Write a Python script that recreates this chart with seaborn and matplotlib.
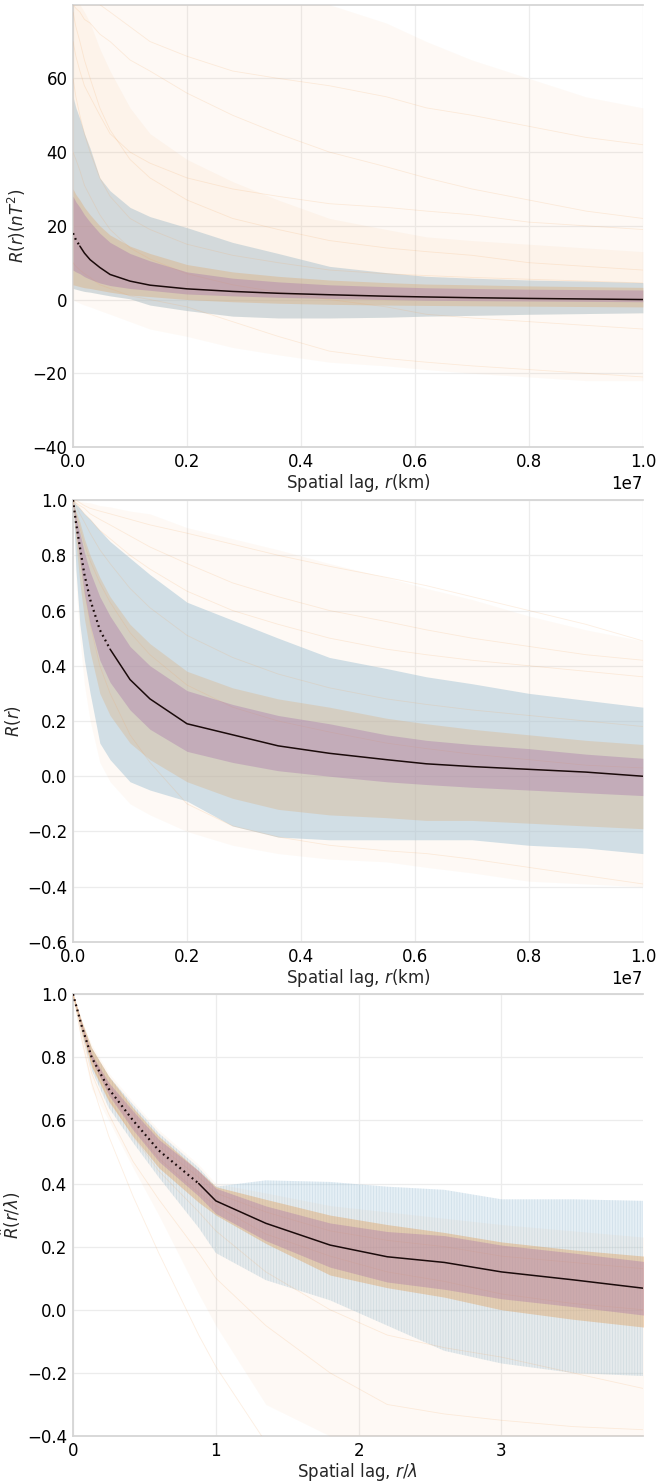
import numpy as np
import pandas as pd
import matplotlib
matplotlib.use("Agg")
import matplotlib.pyplot as plt
import seaborn as sns

# ---- data ----
# lag grid for the two top panels, in units of 1e7 km
lag = [0.0, 0.005, 0.012, 0.02, 0.03, 0.047, 0.065, 0.1, 0.135, 0.2, 0.28, 0.36, 0.45, 0.55, 0.62, 0.7, 0.8, 0.9, 1.0]

# panel 1: R(r) in nT^2
p1_mean = [18, 16.2, 14.5, 12.6, 10.8, 8.7, 6.8, 5.0, 3.9, 2.9, 2.2, 1.7, 1.3, 0.9, 0.7, 0.5, 0.3, 0.15, 0.0]
p1_std_hi = [28, 26.5, 25, 23, 21, 18, 15.5, 12.5, 10.5, 7.5, 5.8, 4.8, 4.0, 3.5, 3.2, 3.0, 2.8, 2.7, 2.6]
p1_std_lo = [8, 7.5, 7, 6.2, 5.5, 4.5, 3.8, 3.0, 2.5, 1.5, 1.0, 0.6, 0.3, 0.0, -0.2, -0.3, -0.4, -0.5, -0.6]
p1_rng_hi = [55, 52, 49, 45, 41, 33, 29.5, 25, 22.5, 19.5, 15.5, 12.5, 9.0, 7.3, 6.3, 5.8, 5.3, 5.0, 4.6]
p1_rng_lo = [3, 2.8, 2.5, 2.2, 2.0, 1.5, 1.0, 0.2, -1.5, -3.0, -4.5, -5.0, -5.0, -4.8, -4.5, -4.3, -4.0, -3.8, -3.6]
p1_core_hi = [30, 28.5, 27, 25, 23, 20, 17.5, 14.5, 12.5, 9.5, 7.5, 6.3, 5.3, 4.6, 4.2, 4.0, 3.7, 3.5, 3.3]
p1_core_lo = [4, 3.8, 3.5, 3.2, 3, 2.5, 2.0, 1.2, 0.8, 0.0, -0.6, -1.0, -1.3, -1.5, -1.6, -1.7, -1.8, -1.9, -2.0]
p1_mid_hi = [80, 80, 80, 78, 75, 68, 62, 52, 45, 38, 32, 27, 22, 19, 17, 16, 15, 14, 13]
p1_all_hi = [80, 80, 80, 80, 80, 80, 80, 80, 80, 80, 80, 80, 80, 75, 70, 65, 60, 55, 52]
p1_all_lo = [0, -0.5, -1, -1.5, -2, -3, -4, -6, -8, -10, -13, -15, -17, -18, -19, -20, -21, -22, -22]
p1_runs = [
    [80, 79, 78, 76, 75, 72, 70, 65, 62, 56, 50, 45, 40, 36, 33, 30, 27, 24, 22],
    [78, 74, 70, 65, 60, 52, 46, 38, 33, 27, 22, 19, 16, 14, 13, 12, 10, 9, 8],
    [10, 9, 8, 7, 6, 4, 3, 1, 0, -2, -6, -10, -14, -16, -17, -18, -19, -20, -21],
    [60, 55, 50, 45, 40, 33, 28, 22, 19, 15, 12, 10, 8, 7, 6.5, 6, 5.5, 5, 4.5],
    [40, 38, 35, 31, 28, 23, 19, 14, 11, 7, 4, 2, 0, -2, -4, -5, -6, -7, -8],
    [80, 80, 80, 80, 80, 80, 78, 74, 70, 66, 62, 60, 58, 55, 52, 50, 47, 44, 42],
    [70, 66, 62, 58, 55, 50, 45, 40, 37, 33, 30, 28, 26, 25, 24, 23, 21, 20, 19],
]

# panel 2: normalised R(r)
p2_mean = [1.0, 0.92, 0.83, 0.73, 0.64, 0.53, 0.46, 0.35, 0.28, 0.19, 0.15, 0.11, 0.083, 0.06, 0.045, 0.035, 0.025, 0.015, 0.0]
p2_std_hi = [1.0, 0.94, 0.88, 0.81, 0.74, 0.65, 0.58, 0.47, 0.40, 0.31, 0.26, 0.22, 0.19, 0.15, 0.13, 0.115, 0.10, 0.08, 0.065]
p2_std_lo = [1.0, 0.89, 0.78, 0.66, 0.55, 0.42, 0.34, 0.24, 0.17, 0.09, 0.05, 0.02, 0.0, -0.02, -0.03, -0.04, -0.05, -0.06, -0.07]
p2_rng_hi = [1.0, 0.985, 0.97, 0.95, 0.93, 0.89, 0.85, 0.79, 0.73, 0.63, 0.565, 0.50, 0.43, 0.39, 0.36, 0.335, 0.30, 0.275, 0.25]
p2_rng_lo = [1.0, 0.75, 0.55, 0.42, 0.3, 0.12, 0.06, -0.02, -0.05, -0.09, -0.18, -0.22, -0.23, -0.23, -0.23, -0.23, -0.25, -0.26, -0.28]
p2_core_hi = [1.0, 0.96, 0.92, 0.86, 0.8, 0.72, 0.65, 0.55, 0.48, 0.38, 0.32, 0.28, 0.25, 0.21, 0.19, 0.17, 0.15, 0.13, 0.115]
p2_core_lo = [1.0, 0.85, 0.7, 0.57, 0.45, 0.3, 0.22, 0.12, 0.06, -0.02, -0.08, -0.12, -0.14, -0.15, -0.16, -0.16, -0.17, -0.18, -0.19]
p2_all_hi = [1.0, 1.0, 0.995, 0.992, 0.99, 0.98, 0.975, 0.96, 0.95, 0.9, 0.86, 0.82, 0.77, 0.72, 0.68, 0.64, 0.58, 0.53, 0.49]
p2_all_lo = [1.0, 0.7, 0.5, 0.33, 0.2, 0.05, -0.02, -0.1, -0.14, -0.2, -0.25, -0.28, -0.3, -0.31, -0.33, -0.35, -0.38, -0.39, -0.4]
p2_runs = [
    [1.0, 1.0, 0.99, 0.98, 0.97, 0.96, 0.95, 0.93, 0.91, 0.88, 0.84, 0.8, 0.76, 0.72, 0.69, 0.65, 0.6, 0.55, 0.49],
    [1.0, 0.99, 0.97, 0.95, 0.93, 0.89, 0.86, 0.8, 0.75, 0.67, 0.6, 0.55, 0.5, 0.46, 0.44, 0.42, 0.4, 0.38, 0.36],
    [1.0, 0.9, 0.8, 0.67, 0.55, 0.4, 0.3, 0.15, 0.05, -0.1, -0.18, -0.22, -0.25, -0.27, -0.28, -0.3, -0.33, -0.36, -0.39],
    [1.0, 0.95, 0.9, 0.84, 0.78, 0.7, 0.63, 0.52, 0.44, 0.33, 0.25, 0.2, 0.16, 0.12, 0.1, 0.08, 0.06, 0.04, 0.03],
    [1.0, 0.98, 0.95, 0.92, 0.88, 0.82, 0.77, 0.68, 0.61, 0.51, 0.43, 0.37, 0.32, 0.28, 0.26, 0.24, 0.22, 0.2, 0.18],
    [1.0, 0.99, 0.98, 0.97, 0.95, 0.93, 0.91, 0.87, 0.83, 0.77, 0.7, 0.65, 0.6, 0.56, 0.53, 0.5, 0.47, 0.44, 0.42],
]

# panel 3: R vs r/lambda
slag = [0, 0.06, 0.13, 0.25, 0.42, 0.6, 0.88, 1.0, 1.35, 1.8, 2.2, 2.6, 3.0, 3.5, 4.0]
p3_mean = [1.0, 0.9, 0.8, 0.7, 0.6, 0.505, 0.4, 0.345, 0.274, 0.205, 0.168, 0.15, 0.12, 0.095, 0.068]
p3_std_hi = [1.0, 0.905, 0.81, 0.72, 0.63, 0.54, 0.44, 0.385, 0.329, 0.275, 0.248, 0.235, 0.205, 0.18, 0.153]
p3_std_lo = [1.0, 0.895, 0.79, 0.68, 0.57, 0.47, 0.36, 0.305, 0.219, 0.135, 0.088, 0.065, 0.035, 0.01, -0.017]
p3_rng_hi = [1.0, 0.915, 0.83, 0.74, 0.65, 0.56, 0.45, 0.39, 0.41, 0.405, 0.39, 0.38, 0.35, 0.35, 0.345]
p3_rng_lo = [1.0, 0.88, 0.76, 0.64, 0.53, 0.42, 0.26, 0.18, 0.094, 0.03, -0.05, -0.13, -0.17, -0.2, -0.21]
p3_core_hi = [1.0, 0.915, 0.83, 0.74, 0.64, 0.55, 0.44, 0.39, 0.35, 0.30, 0.27, 0.245, 0.215, 0.19, 0.17]
p3_core_lo = [1.0, 0.885, 0.77, 0.66, 0.55, 0.45, 0.34, 0.30, 0.21, 0.11, 0.07, 0.04, 0.0, -0.03, -0.055]
p3_all_hi = [1.0, 0.92, 0.84, 0.75, 0.66, 0.57, 0.46, 0.4, 0.37, 0.33, 0.31, 0.29, 0.27, 0.25, 0.23]
p3_all_lo = [1.0, 0.84, 0.7, 0.6, 0.45, 0.3, 0.05, -0.05, -0.3, -0.4, -0.4, -0.4, -0.4, -0.4, -0.4]
p3_runs = [
    [1.0, 0.86, 0.72, 0.55, 0.36, 0.18, -0.08, -0.18, -0.42, -0.5, -0.5, -0.5, -0.5, -0.5, -0.5],
    [1.0, 0.88, 0.75, 0.62, 0.47, 0.35, 0.18, 0.1, -0.05, -0.2, -0.3, -0.33, -0.35, -0.37, -0.38],
    [1.0, 0.89, 0.78, 0.67, 0.55, 0.44, 0.31, 0.25, 0.12, 0.0, -0.08, -0.12, -0.15, -0.2, -0.25],
    [1.0, 0.91, 0.81, 0.71, 0.62, 0.52, 0.42, 0.37, 0.31, 0.25, 0.22, 0.2, 0.17, 0.15, 0.13],
    [1.0, 0.9, 0.79, 0.69, 0.58, 0.48, 0.37, 0.33, 0.24, 0.17, 0.12, 0.09, 0.05, 0.02, 0.0],
]

# ---- style ----
BLUE = "#a9cbe0"
HATCH_BLUE = "#a3bfd2"
ORANGE = "#f2a45c"
CORE = "#dea66a"
PURPLE = "#9c60a6"
MEAN = "#1a0a0a"

sns.set_theme(style="whitegrid")
plt.rcParams["font.family"] = ["DejaVu Sans"]
plt.rcParams["axes.edgecolor"] = "#d4d4d4"
plt.rcParams["grid.color"] = "#ececec"
plt.rcParams["grid.linewidth"] = 0.9
plt.rcParams["hatch.linewidth"] = 0.6

fig = plt.figure(figsize=(6.58, 14.82), dpi=100)
L, W, H = 0.111, 0.866, 0.2982
axs = [fig.add_axes([L, 0.6984, W, H]),
       fig.add_axes([L, 0.3644, W, H]),
       fig.add_axes([L, 0.0310, W, H])]

km = [v * 1e7 for v in lag]

panels = [
    dict(x=km, mean=p1_mean, shi=p1_std_hi, slo=p1_std_lo, rhi=p1_rng_hi, rlo=p1_rng_lo,
         chi=p1_core_hi, clo=p1_core_lo, ahi=p1_all_hi, alo=p1_all_lo, mhi=p1_mid_hi,
         runs=p1_runs, dot_end=2, hatch=None, core_alpha=0.35),
    dict(x=km, mean=p2_mean, shi=p2_std_hi, slo=p2_std_lo, rhi=p2_rng_hi, rlo=p2_rng_lo,
         chi=p2_core_hi, clo=p2_core_lo, ahi=p2_all_hi, alo=p2_all_lo, mhi=None,
         runs=p2_runs, dot_end=6, hatch=None, core_alpha=0.28),
    dict(x=slag, mean=p3_mean, shi=p3_std_hi, slo=p3_std_lo, rhi=p3_rng_hi, rlo=p3_rng_lo,
         chi=p3_core_hi, clo=p3_core_lo, ahi=p3_all_hi, alo=p3_all_lo, mhi=None,
         runs=p3_runs, dot_end=6, hatch="||||||", core_alpha=0.45),
]

for ax, p in zip(axs, panels):
    x = p["x"]
    # spread of all runs (blue)
    if p["hatch"]:
        ax.fill_between(x, p["rlo"], p["rhi"], facecolor=BLUE, alpha=0.3,
                        hatch=p["hatch"], edgecolor=HATCH_BLUE, linewidth=0, zorder=2)
    else:
        ax.fill_between(x, p["rlo"], p["rhi"], color=BLUE, alpha=0.55, linewidth=0, zorder=2)
    # faint haze of individual runs
    ax.fill_between(x, p["alo"], p["ahi"], color=ORANGE, alpha=0.06, linewidth=0, zorder=3)
    if p["mhi"] is not None:
        ax.fill_between(x, p["rlo"], p["mhi"], color=ORANGE, alpha=0.07, linewidth=0, zorder=3)
    for run in p["runs"]:
        sns.lineplot(x=x, y=run, ax=ax, color=ORANGE, alpha=0.18, linewidth=0.6, zorder=3)
    # dense bundle of runs
    ax.fill_between(x, p["clo"], p["chi"], color=CORE, alpha=p["core_alpha"], linewidth=0, zorder=4)
    # mean +/- std
    ax.fill_between(x, p["slo"], p["shi"], color=PURPLE, alpha=0.3, linewidth=0, zorder=5)
    # mean
    d = p["dot_end"]
    sns.lineplot(x=x[:d + 1], y=p["mean"][:d + 1], ax=ax, color=MEAN,
                 linewidth=1.6, linestyle=(0, (0.8, 1.6)), zorder=6)
    sns.lineplot(x=x[d:], y=p["mean"][d:], ax=ax, color=MEAN, linewidth=1.1, zorder=6)

    ax.spines["right"].set_visible(False)
    ax.tick_params(length=0, pad=4, labelsize=12, colors="black")
    ax.grid(True, zorder=0)
    ax.set_axisbelow(True)

axs[0].set_xlim(0, 1e7)
axs[0].set_ylim(-40, 79.9)
axs[0].set_yticks([-40, -20, 0, 20, 40, 60])
axs[0].set_ylabel(r"$R(r)(nT^2)$", fontsize=12, labelpad=3)
axs[0].set_xlabel(r"Spatial lag, $r$(km)", fontsize=12, labelpad=1)

axs[1].set_xlim(0, 1e7)
axs[1].set_ylim(-0.6, 1.0)
axs[1].set_yticks([-0.6, -0.4, -0.2, 0.0, 0.2, 0.4, 0.6, 0.8, 1.0])
axs[1].set_ylabel(r"$R(r)$", fontsize=12, labelpad=3)
axs[1].set_xlabel(r"Spatial lag, $r$(km)", fontsize=12, labelpad=1)

axs[2].set_xlim(0, 3.99)
axs[2].set_ylim(-0.4, 1.0)
axs[2].set_xticks([0, 1, 2, 3])
axs[2].set_yticks([-0.4, -0.2, 0.0, 0.2, 0.4, 0.6, 0.8, 1.0])
axs[2].set_ylabel(r"$\hat{R}(r/\lambda)$", fontsize=12, labelpad=3)
axs[2].set_xlabel(r"Spatial lag, $r/\lambda$", fontsize=12, labelpad=1)

for ax in axs[:2]:
    ax.ticklabel_format(axis="x", style="sci", scilimits=(0, 0))
    ax.xaxis.get_offset_text().set_fontsize(12)

fig.savefig("out.png", dpi=100)
